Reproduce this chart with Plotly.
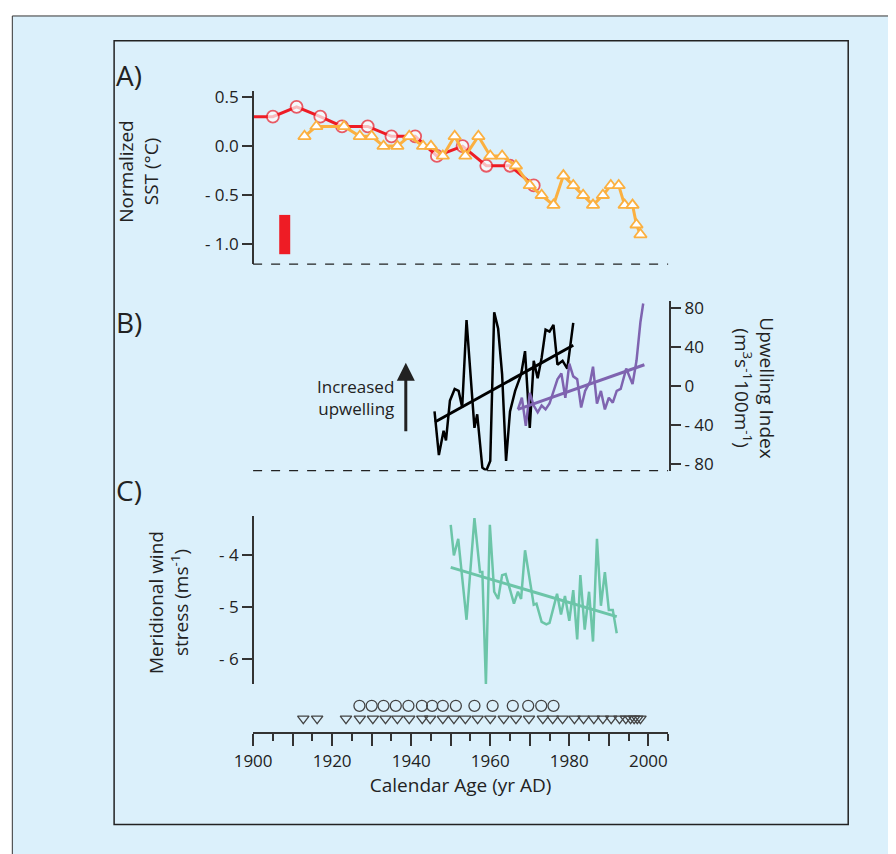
import plotly.graph_objects as go

W, H = 896, 854

# ── Panel A: normalized SST ──
red_years = [1900, 1905, 1911, 1917, 1922.5, 1929, 1935, 1941, 1946.5, 1953, 1959, 1965, 1971]
red_sst = [0.3, 0.3, 0.4, 0.3, 0.2, 0.2, 0.1, 0.1, -0.1, 0.0, -0.2, -0.2, -0.4]
orange_years = [1913, 1916, 1923, 1927, 1930, 1933, 1936.5, 1939.5, 1943, 1945, 1948, 1951,
                1953.7, 1957, 1960, 1963, 1966.5, 1970, 1973, 1976, 1978.5, 1981, 1983.5,
                1986, 1988.5, 1990.5, 1992.5, 1994, 1996, 1997, 1998]
orange_sst = [0.1, 0.2, 0.2, 0.1, 0.1, 0.0, 0.0, 0.1, 0.0, 0.0, -0.1, 0.1,
              -0.1, 0.1, -0.1, -0.1, -0.2, -0.4, -0.5, -0.6, -0.3, -0.4, -0.5,
              -0.6, -0.5, -0.4, -0.4, -0.6, -0.6, -0.8, -0.9]
err_year = [1908, 1908]
err_range = [-0.7, -1.1]

# ── Panel B: upwelling index ──
blk_years = [1945.9, 1947, 1948.2, 1948.8, 1949.8, 1951, 1952, 1952.9, 1954, 1955, 1956,
             1956.7, 1958, 1959, 1960, 1961, 1962, 1963, 1964, 1965, 1966.3, 1967.8,
             1968.8, 1970, 1971, 1972, 1973, 1974, 1975, 1976, 1977, 1978.3, 1979.5, 1981]
blk_upw = [-26, -71, -46, -56, -15, -3, -5, -22, 68, 8, -43, -29, -84, -87, -77, 76, 59,
           12, -77, -26, -5, 12, 36, -43, 26, 8, 29, 58, 56, 63, 22, 26, 18, 65]
blk_trend_x = [1946, 1981]
blk_trend_y = [-37, 42]
pur_years = [1967, 1968, 1969, 1970, 1971, 1972, 1973, 1974, 1975, 1977, 1978, 1979, 1980,
             1981, 1982, 1983, 1984, 1985.3, 1986, 1987, 1988, 1989, 1990, 1991, 1992,
             1993, 1994.4, 1996, 1997, 1998, 1998.7]
pur_upw = [-24, -12, -41, -7, -20, -27, -20, -24, -18, 7, 13, -12, 23, 10, 7, -22, -5, 5,
           20, -18, -5, -24, -12, -17, -5, -3, 18, 2, 26, 66, 85]
pur_trend_x = [1967, 1999]
pur_trend_y = [-24, 22]

# ── Panel C: meridional wind stress ──
grn_years = [1950, 1950.8, 1951.9, 1954, 1956, 1957.4, 1958, 1958.9, 1959.9, 1961, 1962,
             1963, 1963.9, 1966, 1967, 1967.8, 1968.8, 1971, 1971.7, 1973, 1974.2, 1975,
             1976.9, 1977.9, 1978.9, 1980, 1981, 1982, 1982.8, 1983.9, 1985, 1986, 1987,
             1988, 1989, 1990, 1991, 1992]
grn_wind = [-3.41, -4.0, -3.68, -5.24, -3.28, -4.32, -4.32, -6.48, -3.41, -4.7, -4.84,
            -4.38, -4.36, -4.93, -4.7, -4.84, -3.9, -4.95, -4.93, -5.28, -5.33, -5.3,
            -4.74, -5.14, -4.78, -5.26, -4.67, -5.62, -4.38, -5.43, -4.7, -5.66, -3.68,
            -4.97, -4.32, -5.05, -5.05, -5.5]
grn_trend_x = [1950, 1992]
grn_trend_y = [-4.23, -5.18]

# ── dating markers ──
circle_years = [1926.9, 1930, 1933, 1936.1, 1939.3, 1942.7, 1945.3, 1948, 1951.3, 1956,
                1960.6, 1965.7, 1969.6, 1972.9, 1976]
tri_years = [1912.7, 1916.2, 1923.5, 1927, 1930.3, 1933.5, 1936.5, 1939.5, 1942.8, 1944.8,
             1948, 1950.8, 1953.7, 1956.8, 1960, 1963.4, 1966.5, 1969.8, 1973.3, 1975.8,
             1978.3, 1981.3, 1983.6, 1986.2, 1988.5, 1990.6, 1992.7, 1994.3, 1995.5,
             1996.4, 1997.2, 1998]

RED, ORANGE, PURPLE, GREEN = "#ee1c25", "#fbb040", "#7f64b0", "#6cc5a8"
FONT = "Open Sans"
OX, OY = -21, -10  # page offset correction


def px(x):
    return (x + OX) / W


def py(y):
    return 1 - (y + OY) / H


def dom(top, bottom):
    return [py(bottom), py(top)]


fig = go.Figure()

fig.add_trace(go.Scatter(x=red_years, y=red_sst, mode="lines+markers", xaxis="x", yaxis="y",
                         line=dict(color=RED, width=3),
                         marker=dict(symbol="circle", size=[0] + [12] * 12, color="white",
                                     line=dict(color=RED, width=1.8))))
fig.add_trace(go.Scatter(x=orange_years, y=orange_sst, mode="lines+markers", xaxis="x", yaxis="y",
                         line=dict(color=ORANGE, width=3),
                         marker=dict(symbol="triangle-up", size=11, color="white",
                                     line=dict(color=ORANGE, width=1.8))))
fig.add_trace(go.Scatter(x=err_year, y=err_range, mode="lines", xaxis="x", yaxis="y",
                         line=dict(color=RED, width=11)))

fig.add_trace(go.Scatter(x=blk_years, y=blk_upw, mode="lines", xaxis="x", yaxis="y2",
                         line=dict(color="black", width=2.5)))
fig.add_trace(go.Scatter(x=blk_trend_x, y=blk_trend_y, mode="lines", xaxis="x", yaxis="y2",
                         line=dict(color="black", width=3)))
fig.add_trace(go.Scatter(x=pur_years, y=pur_upw, mode="lines", xaxis="x", yaxis="y2",
                         line=dict(color=PURPLE, width=2.5)))
fig.add_trace(go.Scatter(x=pur_trend_x, y=pur_trend_y, mode="lines", xaxis="x", yaxis="y2",
                         line=dict(color=PURPLE, width=3)))

fig.add_trace(go.Scatter(x=grn_years, y=grn_wind, mode="lines", xaxis="x", yaxis="y3",
                         line=dict(color=GREEN, width=2.5)))
fig.add_trace(go.Scatter(x=grn_trend_x, y=grn_trend_y, mode="lines", xaxis="x", yaxis="y3",
                         line=dict(color=GREEN, width=3)))

fig.add_trace(go.Scatter(x=circle_years, y=[1] * len(circle_years), mode="markers",
                         xaxis="x", yaxis="y4",
                         marker=dict(symbol="circle-open", size=11, color="#444",
                                     line=dict(width=1.3))))
fig.add_trace(go.Scatter(x=tri_years, y=[0] * len(tri_years), mode="markers",
                         xaxis="x", yaxis="y4",
                         marker=dict(symbol="triangle-down-open", size=10, color="#444",
                                     line=dict(width=1.3))))

tickfont = dict(family=FONT, size=17, color="#222")
axcol = "#333"

xt = list(range(1900, 2010, 10))
fig.update_layout(
    width=W, height=H, margin=dict(l=0, r=0, t=0, b=0),
    paper_bgcolor="white", plot_bgcolor="rgba(0,0,0,0)", showlegend=False,
    font=dict(family=FONT, color="#222"),
    xaxis=dict(domain=[px(252), px(676)], range=[1900, 2005], anchor="y4",
               tickvals=xt, ticktext=[str(v) if v % 20 == 0 else "" for v in xt],
               ticks="outside", ticklen=12, tickwidth=1.5, tickcolor=axcol,
               minor=dict(dtick=5, tick0=1900, ticks="outside", ticklen=7, tickcolor=axcol, tickwidth=1.5),
               showline=True, linecolor=axcol, linewidth=2, showgrid=False, zeroline=False,
               tickfont=tickfont,
               title=dict(text="Calendar Age (yr AD)", font=dict(family=FONT, size=19), standoff=6)),
    yaxis=dict(domain=dom(88, 263), range=[-1.2, 0.56], anchor="free", position=px(252),
               tickvals=[0.5, 0, -0.5, -1.0], ticktext=["0.5", "0.0", "- 0.5", "- 1.0"],
               ticks="outside", ticklen=10, tickwidth=1.5, tickcolor=axcol,
               showline=True, linecolor=axcol, linewidth=2, showgrid=False, zeroline=False,
               tickfont=tickfont),
    yaxis2=dict(domain=dom(300, 472), range=[-87, 88], anchor="free", position=px(678), side="right",
                tickvals=[80, 40, 0, -40, -80], ticktext=["80", "40", "0", "- 40", "- 80"],
                ticks="outside", ticklen=10, tickwidth=1.5, tickcolor=axcol,
                showline=True, linecolor=axcol, linewidth=2, showgrid=False, zeroline=False,
                tickfont=tickfont),
    yaxis3=dict(domain=dom(518, 688), range=[-6.48, -3.24], anchor="free", position=px(252),
                tickvals=[-4, -5, -6], ticktext=["- 4", "- 5", "- 6"],
                ticks="outside", ticklen=10, tickwidth=1.5, tickcolor=axcol,
                showline=True, linecolor=axcol, linewidth=2, showgrid=False, zeroline=False,
                tickfont=tickfont),
    yaxis4=dict(domain=dom(700, 737), range=[-1.08, 1.77], anchor="free", position=px(252),
                visible=False),
)

shapes = [
    # light blue background panel
    dict(type="rect", xref="paper", yref="paper", x0=px(6), x1=px(920), y0=py(870), y1=py(12),
         fillcolor="#dbf0fb", line=dict(color="#333", width=1), layer="below"),
    # inner frame
    dict(type="rect", xref="paper", yref="paper", x0=px(110), x1=px(860), y0=py(830), y1=py(37),
         fillcolor="rgba(0,0,0,0)", line=dict(color="#222", width=1.5), layer="below"),
    # dashed baselines
    dict(type="line", xref="paper", yref="paper", x0=px(252), x1=px(676), y0=py(263), y1=py(263),
         line=dict(color="#222", width=1.3, dash="dash")),
    dict(type="line", xref="paper", yref="paper", x0=px(252), x1=px(676), y0=py(472), y1=py(472),
         line=dict(color="#222", width=1.3, dash="dash")),
]
fig.update_layout(shapes=shapes)

ann = [
    dict(text="A)", x=px(110), y=py(72), size=28, xanchor="left"),
    dict(text="B)", x=px(110), y=py(322), size=28, xanchor="left"),
    dict(text="C)", x=px(110), y=py(492), size=28, xanchor="left"),
    dict(text="Increased<br>upwelling", x=px(398), y=py(398), size=17, xanchor="right"),
]
annotations = []
for a in ann:
    annotations.append(dict(text=a["text"], x=a["x"], y=a["y"], xref="paper", yref="paper",
                            xanchor=a["xanchor"], yanchor="middle", showarrow=False, align="right",
                            font=dict(family=FONT, size=a["size"], color="#222")))
for text, x, y in [("Normalized<br>SST (°C)", 135, 170),
                   ("Upwelling Index<br>(m<sup>3</sup>s<sup>-1</sup>100m<sup>-1</sup>)", 764, 388),
                   ("Meridional wind<br>stress (ms<sup>-1</sup>)", 165, 605)]:
    annotations.append(dict(text=text, x=px(x), y=py(y), xref="paper", yref="paper",
                            xanchor="center", yanchor="middle",
                            showarrow=False, textangle=-90 if x < 400 else 90,
                            font=dict(family=FONT, size=19, color="#222")))
# arrow
annotations.append(dict(x=px(408), y=py(363), ax=0, ay=70, xref="paper", yref="paper",
                        text="", showarrow=True, arrowhead=2,
                        arrowsize=1.2, arrowwidth=3, arrowcolor="#222"))
fig.update_layout(annotations=annotations)

fig.write_html("out.html")
